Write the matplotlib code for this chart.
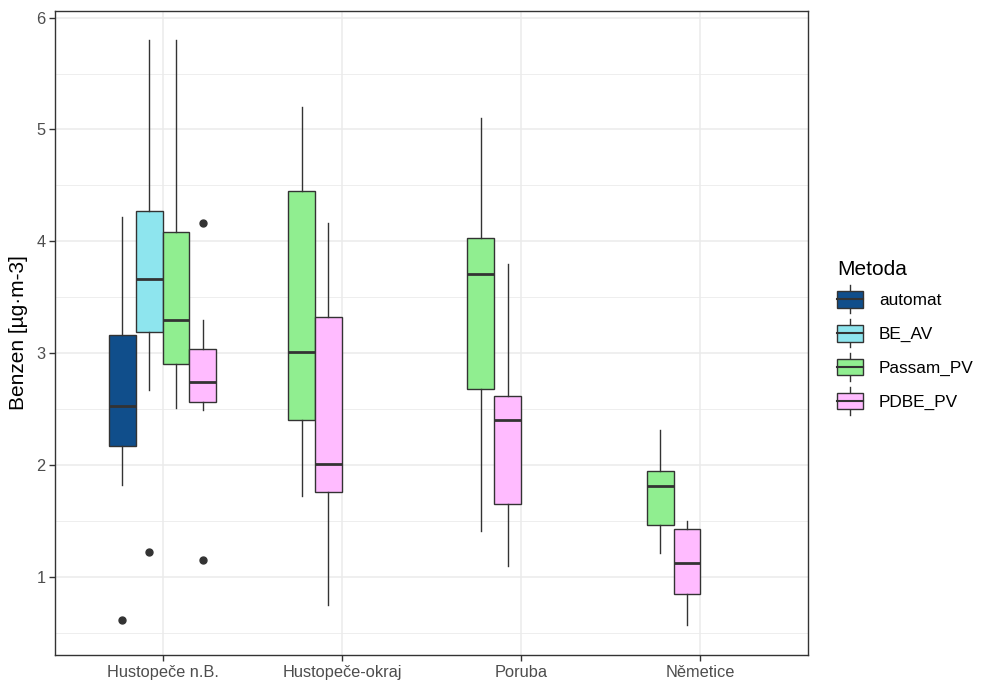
import matplotlib.pyplot as plt
from matplotlib.patches import Rectangle
from matplotlib.lines import Line2D
from matplotlib.legend_handler import HandlerBase

plt.rcParams['font.family'] = ['Liberation Sans', 'DejaVu Sans']

locations = ["Hustopeče n.B.", "Hustopeče-okraj", "Poruba", "Němetice"]
methods = ["automat", "BE_AV", "Passam_PV", "PDBE_PV"]
colors = ["#104E8B", "#8EE5EE", "#90EE90", "#FFBBFF"]

# (whisker low, q1, median, q3, whisker high) per location; None = no samples
automat = [(1.82, 2.165, 2.53, 3.165, 4.22), None, None, None]
be_av = [(2.67, 3.19, 3.66, 4.27, 5.80), None, None, None]
passam_pv = [(2.51, 2.90, 3.30, 4.08, 5.80),
             (1.72, 2.40, 3.01, 4.45, 5.20),
             (1.41, 2.68, 3.71, 4.03, 5.10),
             (1.21, 1.46, 1.81, 1.95, 2.31)]
pdbe_pv = [(2.49, 2.565, 2.74, 3.04, 3.30),
           (0.75, 1.756, 2.005, 3.32, 4.16),
           (1.10, 1.65, 2.40, 2.62, 3.80),
           (0.57, 0.845, 1.12, 1.43, 1.50)]

automat_out = [[0.61], [], [], []]
be_av_out = [[1.22], [], [], []]
passam_out = [[], [], [], []]
pdbe_out = [[4.16, 1.15], [], [], []]

summaries = [automat, be_av, passam_pv, pdbe_pv]
outliers = [automat_out, be_av_out, passam_out, pdbe_out]

EDGE = "#333333"
GRID = "#EBEBEB"
TXT = "#4D4D4D"

fig = plt.figure(figsize=(9.86, 6.82), dpi=100)
ax = fig.add_axes([0.0558, 0.0396, 0.7637, 0.9443])

slot_w = 0.15
offsets = [-1.5 * slot_w, -0.5 * slot_w, 0.5 * slot_w, 1.5 * slot_w]

for i, loc in enumerate(locations):
    slot = 0
    for m in range(len(methods)):
        s = summaries[m][i]
        if s is None:
            continue
        lo, q1, med, q3, hi = s
        stats = [dict(whislo=lo, q1=q1, med=med, q3=q3, whishi=hi,
                      fliers=outliers[m][i])]
        ax.bxp(stats, positions=[i + offsets[slot]], widths=slot_w,
               patch_artist=True, showcaps=False, manage_ticks=False,
               boxprops=dict(facecolor=colors[m], edgecolor=EDGE, linewidth=1.0),
               whiskerprops=dict(color=EDGE, linewidth=1.0),
               medianprops=dict(color=EDGE, linewidth=2.0, solid_capstyle='butt'),
               flierprops=dict(marker='o', markerfacecolor=EDGE,
                               markeredgecolor=EDGE, markersize=5))
        slot += 1

ax.set_xlim(-0.6, len(locations) - 0.4)
ax.set_ylim(0.30, 6.06)
ax.set_xticks(range(len(locations)))
ax.set_xticklabels(locations)
ax.set_yticks([1, 2, 3, 4, 5, 6])
ax.set_yticks([0.5, 1.5, 2.5, 3.5, 4.5, 5.5], minor=True)
ax.grid(True, which='major', color=GRID, linewidth=1.1)
ax.grid(True, which='minor', axis='y', color=GRID, linewidth=0.6)
ax.set_axisbelow(True)
ax.tick_params(which='major', length=4, width=1.0, color=EDGE,
               labelcolor=TXT, labelsize=11.8, pad=3)
ax.tick_params(which='minor', length=0)
for sp in ax.spines.values():
    sp.set_color(EDGE)
    sp.set_linewidth(1.0)
ax.set_ylabel("Benzen [µg·m-3]", fontsize=15, color='black', labelpad=6)


class BoxKey(HandlerBase):
    def create_artists(self, legend, orig, xd, yd, w, h, fontsize, trans):
        x0, y0 = -xd, -yd
        cx = x0 + w / 2
        fc = orig.get_facecolor()
        whisk = Line2D([cx, cx], [y0, y0 + h], color=EDGE, linewidth=1.0,
                       transform=trans)
        box = Rectangle((x0, y0 + h * 0.2), w, h * 0.6, facecolor=fc,
                        edgecolor=EDGE, linewidth=1.0, transform=trans)
        med = Line2D([x0, x0 + w], [y0 + h / 2, y0 + h / 2], color=EDGE,
                     linewidth=1.5, transform=trans)
        return [whisk, box, med]


handles = [Rectangle((0, 0), 1, 1, facecolor=c) for c in colors]
leg = fig.legend(handles, methods, handler_map={Rectangle: BoxKey()},
                 loc='center left', bbox_to_anchor=(0.840, 0.505),
                 frameon=False, title="Metoda", title_fontsize=15,
                 fontsize=12.4, handlelength=1.5, handleheight=2.1,
                 handletextpad=0.95, labelspacing=0.36, alignment='left',
                 borderpad=0)

fig.savefig("out.png", dpi=100)
